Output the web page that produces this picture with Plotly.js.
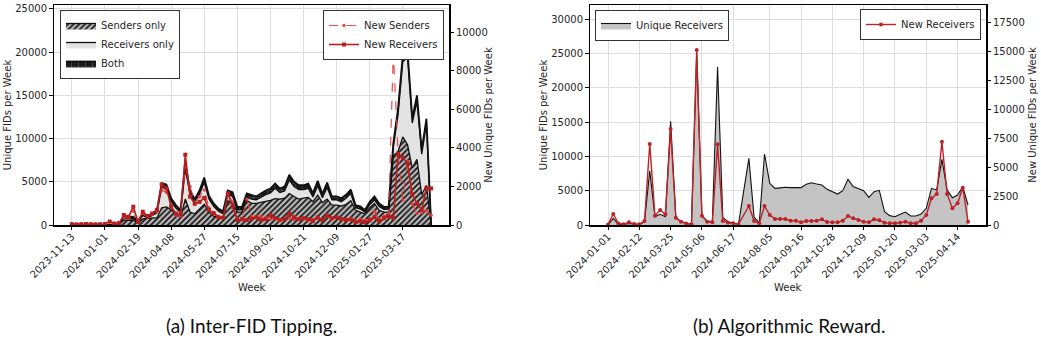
<!DOCTYPE html>
<html>
<head>
<meta charset="utf-8">
<script src="https://cdn.plot.ly/plotly-3.0.1.min.js"></script>
<style>html,body{margin:0;padding:0;background:#fff;}#chart{width:1041px;height:349px;}</style>
</head>
<body>
<div id="chart"></div>
<script>
// ---------- (a) Inter-FID Tipping ----------
const weeksA = [
 '2023-11-13','2023-11-20','2023-11-27','2023-12-04','2023-12-11','2023-12-18','2023-12-25',
 '2024-01-01','2024-01-08','2024-01-15','2024-01-22','2024-01-29','2024-02-05','2024-02-12',
 '2024-02-19','2024-02-26','2024-03-04','2024-03-11','2024-03-18','2024-03-25','2024-04-01',
 '2024-04-08','2024-04-15','2024-04-22','2024-04-29','2024-05-06','2024-05-13','2024-05-20',
 '2024-05-27','2024-06-03','2024-06-10','2024-06-17','2024-06-24','2024-07-01','2024-07-08',
 '2024-07-15','2024-07-22','2024-07-29','2024-08-05','2024-08-12','2024-08-19','2024-08-26',
 '2024-09-02','2024-09-09','2024-09-16','2024-09-23','2024-09-30','2024-10-07','2024-10-14',
 '2024-10-21','2024-10-28','2024-11-04','2024-11-11','2024-11-18','2024-11-25','2024-12-02',
 '2024-12-09','2024-12-16','2024-12-23','2024-12-30','2025-01-06','2025-01-13','2025-01-20',
 '2025-01-27','2025-02-03','2025-02-10','2025-02-17','2025-02-24','2025-03-03','2025-03-10',
 '2025-03-17','2025-03-24','2025-03-31','2025-04-07','2025-04-14','2025-04-21','2025-04-28'];
const sendersOnly = [
 0,0,0,0,0,0,0,0,0,0,
 80,550,550,550,200,700,750,800,850,2000,
 2100,1750,1350,850,3000,1500,1300,1800,2400,1500,
 1000,950,900,2800,2600,1500,1500,2850,2500,2500,
 2600,2700,2850,3050,3000,3100,3650,3300,3000,3100,
 3200,2700,3450,2600,3000,2300,2300,2200,2400,2800,
 1700,1500,1300,2000,2500,1700,1500,1500,8000,8500,
 10200,9300,6600,7600,3500,4600,0];
const receiversOnly = [
 0,0,0,0,0,0,0,0,0,0,
 40,250,150,200,80,400,50,300,550,2350,
 2100,950,600,600,3500,2050,1300,1750,2550,1500,
 1150,650,400,700,700,250,250,350,500,400,
 600,800,850,1200,750,850,1550,1150,1100,1000,
 1050,550,1100,550,1350,600,600,500,700,850,
 300,350,200,350,400,450,300,300,1000,4300,
 8700,10100,5200,6700,4700,7100,0];
const bothRoles = [
 0,0,0,0,0,0,0,0,0,0,
 30,200,200,200,100,250,200,250,300,500,
 500,400,350,300,700,450,400,450,550,400,
 350,300,300,500,500,350,350,450,450,400,
 450,500,500,550,500,500,600,550,500,500,
 550,450,550,450,550,400,400,400,400,450,
 300,300,250,350,400,350,300,300,500,700,
 800,800,600,700,500,600,0];
const newSenders = [
 60,40,50,60,50,40,50,40,150,60,
 80,400,350,700,150,600,400,550,700,1800,
 1700,1000,500,450,3000,2000,1200,1470,1820,900,
 650,450,400,1600,1200,300,350,1330,470,430,
 450,400,300,350,300,350,350,300,350,300,
 250,300,350,300,450,300,400,350,300,350,
 250,300,250,350,700,300,450,600,9000,3700,
 1300,3300,1100,600,650,750,500];
const newReceiversA = [
 40,30,40,50,40,30,40,50,180,80,
 100,520,430,950,170,690,470,600,780,2100,
 1900,950,600,550,3650,1470,1100,1200,1400,780,
 600,400,380,1650,950,260,300,260,330,400,
 260,300,520,350,260,300,600,400,300,350,
 300,200,400,250,500,350,400,300,250,300,
 150,200,150,250,400,200,350,450,350,3700,
 3500,3200,1600,1100,800,1900,1900];
const tickLabelsA = ['2023-11-13','2024-01-01','2024-02-19','2024-04-08','2024-05-27',
 '2024-07-15','2024-09-02','2024-10-21','2024-12-09','2025-01-27','2025-03-17'];

// ---------- (b) Algorithmic Reward ----------
const weeksB = [
 '2024-01-01','2024-01-08','2024-01-15','2024-01-22','2024-01-29','2024-02-05','2024-02-12',
 '2024-02-19','2024-02-26','2024-03-04','2024-03-11','2024-03-18','2024-03-25','2024-04-01',
 '2024-04-08','2024-04-15','2024-04-22','2024-04-29','2024-05-06','2024-05-13','2024-05-20',
 '2024-05-27','2024-06-03','2024-06-10','2024-06-17','2024-06-24',
 '2024-07-08','2024-07-15','2024-07-22','2024-07-29','2024-08-05','2024-08-12','2024-08-19',
 '2024-08-26','2024-09-02','2024-09-09','2024-09-16','2024-09-23','2024-09-30','2024-10-07',
 '2024-10-14','2024-10-21','2024-10-28','2024-11-04','2024-11-11','2024-11-18','2024-11-25',
 '2024-12-02','2024-12-09','2024-12-16','2024-12-23','2024-12-30','2025-01-06','2025-01-13',
 '2025-01-20','2025-01-27','2025-02-03','2025-02-10','2025-02-17','2025-02-24','2025-03-03',
 '2025-03-10','2025-03-17','2025-03-24','2025-03-31','2025-04-07','2025-04-14','2025-04-21',
 '2025-04-28'];
const uniqueReceivers = [
 0,970,100,50,240,150,50,490,7900,1200,
 1550,1200,15100,1070,490,240,100,25000,1360,580,
 490,23000,1120,480,340,100,
 9700,1120,340,10340,6070,5340,5410,5490,5440,5440,
 5440,5920,6160,5970,5820,5190,4850,4510,5000,6650,
 5600,5340,5000,4030,4850,5050,1940,1360,1210,1550,
 1890,1310,1310,1600,2430,5340,5100,9560,5100,3980,
 4370,5580,2910];
const newReceiversB = [
 50,950,140,60,230,90,60,350,6990,800,
 1290,920,8290,630,290,140,60,15100,800,290,
 230,6960,345,200,150,60,
 1640,345,150,1640,860,520,520,520,370,370,
 230,345,345,370,490,250,230,230,370,780,
 580,430,290,230,490,400,200,145,145,200,
 290,145,145,370,860,2300,2680,7190,2680,1440,
 1870,3220,290];
const tickLabelsB = ['2024-01-01','2024-02-12','2024-03-25','2024-05-06','2024-06-17',
 '2024-08-05','2024-09-16','2024-10-28','2024-12-09','2025-01-20','2025-03-03','2025-04-14'];

const FONT = 'DejaVu Sans, sans-serif';
const TXT = '#262626';
const GRID = '#dedede';
const RED_A_NS = 'rgba(228,60,60,0.9)';
const RED_A_NR = '#b81e1e';
const RED_B = '#bd2226';
const f10 = {family: FONT, size: 10, color: TXT};

const traces = [
 {x: weeksA, y: sendersOnly, name: 'Senders only', type: 'scatter', mode: 'lines',
  stackgroup: 'tip', xaxis: 'x', yaxis: 'y', legend: 'legend',
  line: {color: '#111', width: 1.3},
  fillcolor: '#bdbdbd',
  fillpattern: {shape: '/', bgcolor: '#c4c4c4', fgcolor: '#222', size: 4, solidity: 0.5, fillmode: 'replace'}},
 {x: weeksA, y: receiversOnly, name: 'Receivers only', type: 'scatter', mode: 'lines',
  stackgroup: 'tip', xaxis: 'x', yaxis: 'y', legend: 'legend',
  line: {color: '#111', width: 1.3}, fillcolor: '#e3e3e3'},
 {x: weeksA, y: bothRoles, name: 'Both', type: 'scatter', mode: 'lines',
  stackgroup: 'tip', xaxis: 'x', yaxis: 'y', legend: 'legend',
  line: {color: '#111', width: 1.8}, fillcolor: '#1a1a1a',
  fillpattern: {shape: '+', bgcolor: '#1a1a1a', fgcolor: '#777', size: 7, solidity: 0.12, fillmode: 'replace'}},
 {x: weeksA, y: newSenders, name: 'New Senders', type: 'scatter', mode: 'lines+markers',
  xaxis: 'x', yaxis: 'y2', legend: 'legend2',
  line: {color: RED_A_NS, width: 1.2, dash: 'dash'},
  marker: {color: RED_A_NS, size: 3.5, symbol: 'circle'}},
 {x: weeksA, y: newReceiversA, name: 'New Receivers', type: 'scatter', mode: 'lines+markers',
  xaxis: 'x', yaxis: 'y2', legend: 'legend2',
  line: {color: RED_A_NR, width: 1.6},
  marker: {color: RED_A_NR, size: 4, symbol: 'square'}},
 {x: weeksB, y: uniqueReceivers, name: 'Unique Receivers', type: 'scatter', mode: 'lines',
  fill: 'tozeroy', fillcolor: '#c4c4c4', xaxis: 'x2', yaxis: 'y3', legend: 'legend3',
  line: {color: '#111', width: 1.1}},
 {x: weeksB, y: newReceiversB, name: 'New Receivers', type: 'scatter', mode: 'lines+markers',
  xaxis: 'x2', yaxis: 'y4', legend: 'legend4',
  line: {color: RED_B, width: 1.4},
  marker: {color: RED_B, size: 4, symbol: 'circle'}}
];

const xBase = {
 type: 'date', tickmode: 'array', tickangle: -45, ticks: 'outside', ticklen: 3.5,
 tickcolor: '#000', tickwidth: 1, showgrid: true, gridcolor: GRID, gridwidth: 1,
 showline: true, linecolor: '#000', linewidth: 1.5, mirror: true, zeroline: false,
 tickfont: f10, ticklabelstandoff: -3
};
const yBase = {
 ticks: 'outside', ticklen: 3.5, tickcolor: '#000', tickwidth: 1, tick0: 0,
 tickformat: 'd', exponentformat: 'none', separatethousands: false,
 showline: true, linecolor: '#000', linewidth: 1.5, zeroline: false,
 tickfont: f10
};
const PH = 220; // plot height in px
const legBase = {yanchor: 'top', bgcolor: '#fff', bordercolor: '#333', borderwidth: 1,
 font: f10, tracegroupgap: 0, traceorder: 'normal'};
const layout = {
 width: 1041, height: 349,
 margin: {l: 0, r: 0, t: 5, b: 124},
 paper_bgcolor: '#fff', plot_bgcolor: '#fff',
 font: f10,
 showlegend: true,
 xaxis: Object.assign({}, xBase, {domain: [54/1041, 449/1041], anchor: 'y',
   range: ['2023-10-17 14:24', '2025-05-24 09:36'], tickvals: tickLabelsA, ticktext: tickLabelsA}),
 yaxis: Object.assign({}, yBase, {domain: [0, 1], anchor: 'x', range: [0, 25460], dtick: 5000,
   showgrid: true, gridcolor: GRID, mirror: true,
   title: {text: 'Unique FIDs per Week', font: f10}}),
 yaxis2: Object.assign({}, yBase, {overlaying: 'y', side: 'right', anchor: 'x', range: [0, 11417], dtick: 2000,
   showgrid: false,
   title: {text: 'New Unique FIDs per Week', font: f10}}),
 xaxis2: Object.assign({}, xBase, {domain: [590/1041, 986/1041], anchor: 'y3',
   range: ['2023-12-07 20:24', '2025-05-22 03:36'], tickvals: tickLabelsB, ticktext: tickLabelsB}),
 yaxis3: Object.assign({}, yBase, {domain: [0, 1], anchor: 'x2', range: [0, 32040], dtick: 5000,
   showgrid: true, gridcolor: GRID, mirror: true,
   title: {text: 'Unique FIDs per Week', font: f10}}),
 yaxis4: Object.assign({}, yBase, {overlaying: 'y3', side: 'right', anchor: 'x2', range: [0, 18990], dtick: 2500,
   showgrid: false,
   title: {text: 'New Unique FIDs per Week', font: f10}}),
 legend:  Object.assign({}, legBase, {x: 60/1041, y: 1 - 5/PH, xanchor: 'left'}),
 legend2: Object.assign({}, legBase, {x: 444/1041, y: 1 - 5/PH, xanchor: 'right'}),
 legend3: Object.assign({}, legBase, {x: 595/1041, y: 1 - 5/PH, xanchor: 'left'}),
 legend4: Object.assign({}, legBase, {x: 981/1041, y: 1 - 4/PH, xanchor: 'right'}),
 annotations: [
  {text: 'Week', xref: 'paper', yref: 'paper', x: 251.5/1041, y: -(287-225)/PH,
   xanchor: 'center', yanchor: 'middle', showarrow: false, font: f10},
  {text: 'Week', xref: 'paper', yref: 'paper', x: 788/1041, y: -(287-225)/PH,
   xanchor: 'center', yanchor: 'middle', showarrow: false, font: f10},
  {text: '(a) Inter-FID Tipping.', xref: 'paper', yref: 'paper', x: 251/1041, y: -(325-225)/PH,
   xanchor: 'center', yanchor: 'middle', showarrow: false, font: {family: 'Lato, sans-serif', size: 19, color: '#111'}},
  {text: '(b) Algorithmic Reward.', xref: 'paper', yref: 'paper', x: 789/1041, y: -(325-225)/PH,
   xanchor: 'center', yanchor: 'middle', showarrow: false, font: {family: 'Lato, sans-serif', size: 19, color: '#111'}}
 ]
};
Plotly.newPlot('chart', traces, layout, {staticPlot: true, displayModeBar: false});
</script>
</body>
</html>
